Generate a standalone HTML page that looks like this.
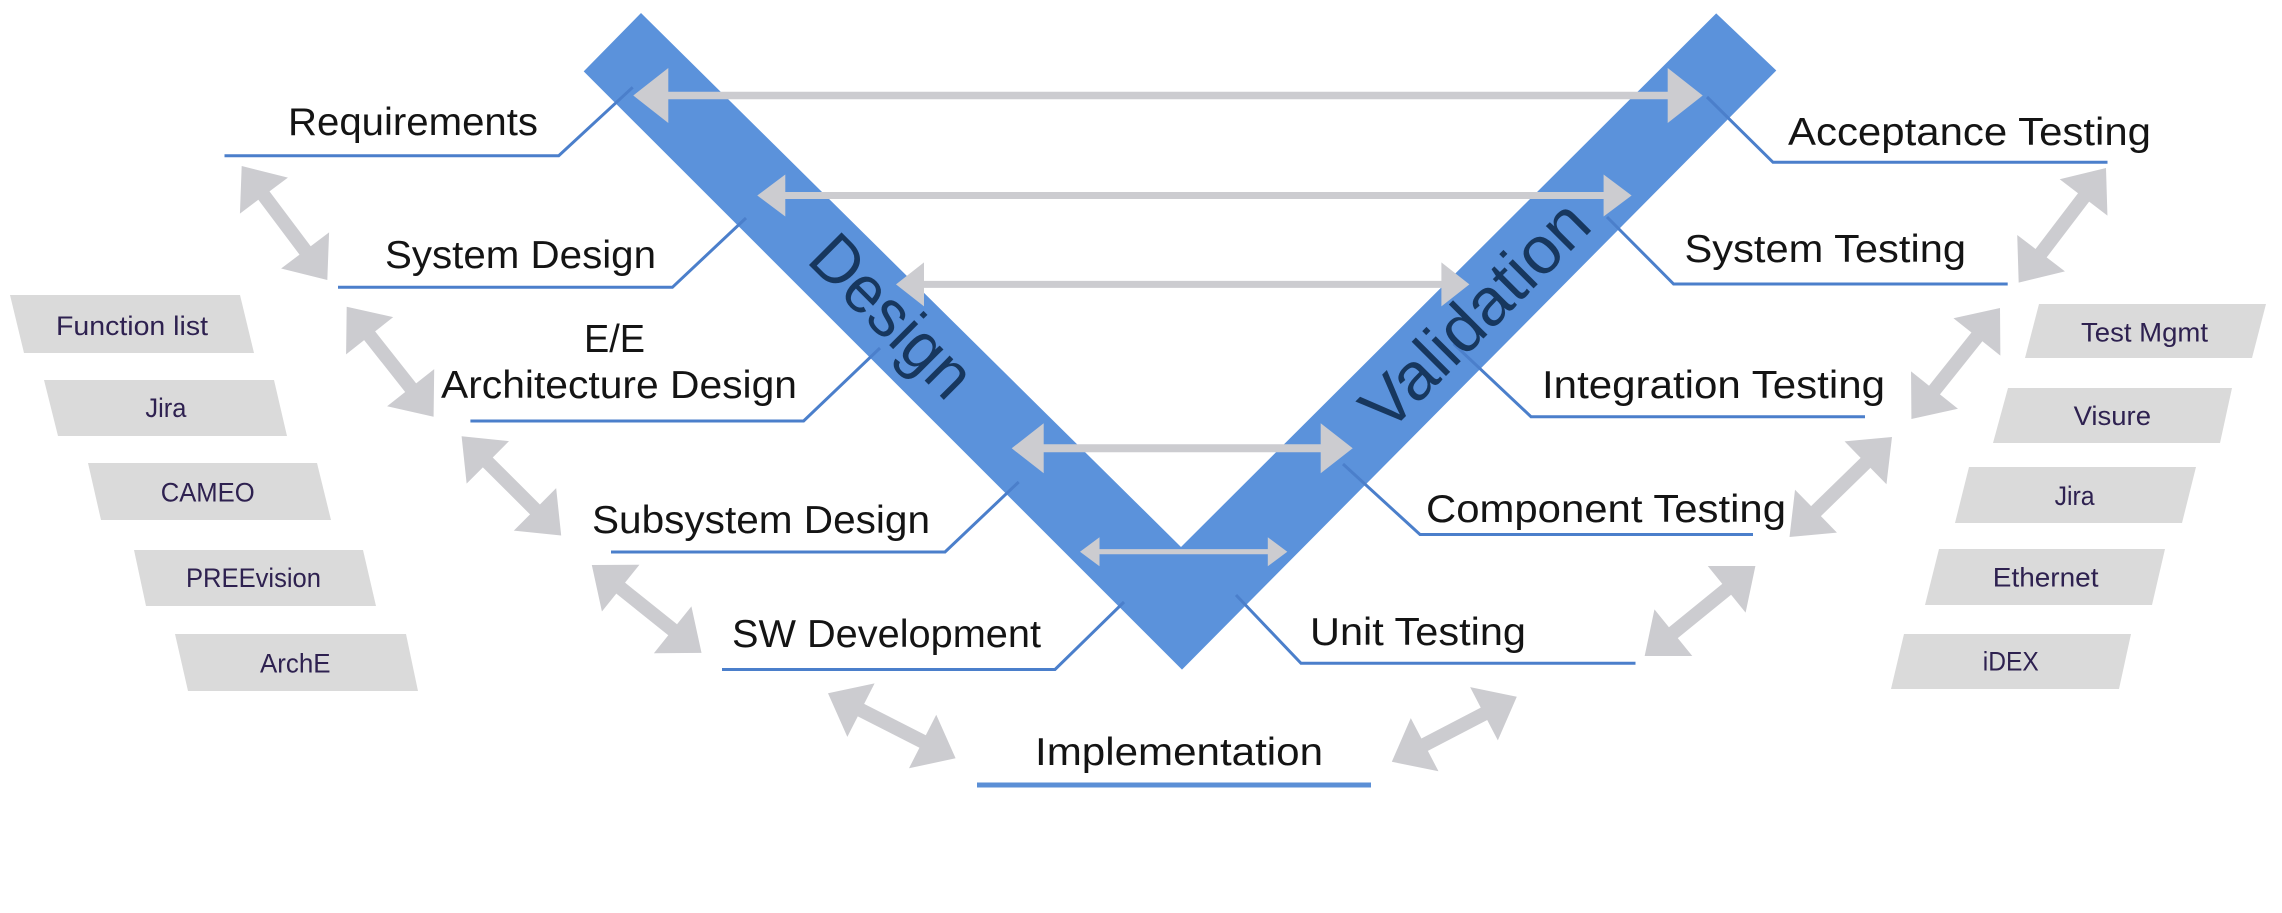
<!DOCTYPE html>
<html>
<head>
<meta charset="utf-8">
<style>
  html, body { margin: 0; padding: 0; background: #ffffff; }
  svg { display: block; }
  .lbl { font-family: "Liberation Sans", Arial, sans-serif; font-size: 39px; fill: #141414; }
  .tool { font-family: "Liberation Sans", Arial, sans-serif; font-size: 27px; fill: #2E2150; }
  .big { font-family: "Liberation Sans", Arial, sans-serif; font-size: 67px; fill: #17375E; }
</style>
</head>
<body>
<svg width="2282" height="913" viewBox="0 0 2282 913" xmlns="http://www.w3.org/2000/svg">
  <rect x="0" y="0" width="2282" height="913" fill="#ffffff"/>

  <!-- V shape -->
  <polygon points="583.7,71.4 641,13 1181,547 1716.2,13.4 1776.3,70.5 1182,669.6" fill="#5B92DB"/>

  <!-- Leader / underline lines -->
  <g fill="none" stroke="#4B7FCB" stroke-width="3" stroke-linejoin="miter">
    <polyline points="224.5,155.7 558.7,155.7 632.7,87.3"/>
    <polyline points="338,287.3 672.4,287.3 746,218"/>
    <polyline points="470.4,421 803.6,421 880,348"/>
    <polyline points="611,552 945,552 1018.7,482"/>
    <polyline points="722,669.5 1055,669.5 1124,602"/>
    <polyline points="1707,97 1773,162.3 2107.5,162.3"/>
    <polyline points="1607,217 1673.6,284 2007.7,284"/>
    <polyline points="1453.6,343.8 1531,416.7 1865,416.7"/>
    <polyline points="1343,464 1420,534.5 1753,534.5"/>
    <polyline points="1236,595 1301,663.3 1635.5,663.3"/>
  </g>
  <line x1="977" y1="785" x2="1371" y2="785" stroke="#5B8FD6" stroke-width="5"/>

  <!-- Horizontal double arrows -->
  <g fill="#CCCCD0">
    <polygon points="633.3,95.5 668.3,68 668.3,91.7 1667.7,91.7 1667.7,68 1702.7,95.5 1667.7,123 1667.7,99.3 668.3,99.3 668.3,123"/>
    <polygon points="757.3,195.5 785.3,174.5 785.3,192 1603.6,192 1603.6,174.5 1631.6,195.5 1603.6,216.5 1603.6,199 785.3,199 785.3,216.5"/>
    <polygon points="896,284.4 924,262.4 924,280.9 1441.4,280.9 1441.4,262.4 1469.4,284.4 1441.4,306.4 1441.4,287.9 924,287.9 924,306.4"/>
    <polygon points="1011.7,448.3 1043.7,423.3 1043.7,444.3 1320.7,444.3 1320.7,423.3 1352.7,448.3 1320.7,473.3 1320.7,452.3 1043.7,452.3 1043.7,473.3"/>
    <polygon points="1080,551.7 1099.5,537.2 1099.5,549.1 1267.8,549.1 1267.8,537.2 1287.3,551.7 1267.8,566.2 1267.8,554.3 1099.5,554.3 1099.5,566.2"/>
  </g>

  <!-- Diagonal double arrows (left) -->
  <g fill="#CCCCD0">
    <polygon transform="translate(241.7,166) rotate(53.1)" points="0,0 37,-30 37,-7 105.6,-7 105.6,-30 142.6,0 105.6,30 105.6,7 37,7 37,30"/>
    <polygon transform="translate(346.7,306.7) rotate(51.7)" points="0,0 37,-30 37,-7 103.2,-7 103.2,-30 140.2,0 103.2,30 103.2,7 37,7 37,30"/>
    <polygon transform="translate(461.6,436.3) rotate(44.9)" points="0,0 37,-30 37,-7 103.6,-7 103.6,-30 140.6,0 103.6,30 103.6,7 37,7 37,30"/>
    <polygon transform="translate(591.8,565) rotate(38.7)" points="0,0 37,-30 37,-7 103.6,-7 103.6,-30 140.6,0 103.6,30 103.6,7 37,7 37,30"/>
    <polygon transform="translate(828,693.3) rotate(27)" points="0,0 37,-30 37,-7 106.2,-7 106.2,-30 143.2,0 106.2,30 106.2,7 37,7 37,30"/>
  </g>
  <!-- Diagonal double arrows (right) -->
  <g fill="#CCCCD0">
    <polygon transform="translate(2106,168) rotate(127.3)" points="0,0 37,-30 37,-7 107.1,-7 107.1,-30 144.1,0 107.1,30 107.1,7 37,7 37,30"/>
    <polygon transform="translate(2000,308) rotate(128.6)" points="0,0 37,-30 37,-7 105,-7 105,-30 142,0 105,30 105,7 37,7 37,30"/>
    <polygon transform="translate(1892,437) rotate(135.7)" points="0,0 37,-30 37,-7 106.2,-7 106.2,-30 143.2,0 106.2,30 106.2,7 37,7 37,30"/>
    <polygon transform="translate(1755.4,566) rotate(140.9)" points="0,0 37,-30 37,-7 105.7,-7 105.7,-30 142.7,0 105.7,30 105.7,7 37,7 37,30"/>
    <polygon transform="translate(1516.8,696.7) rotate(152.5)" points="0,0 37,-30 37,-7 103.9,-7 103.9,-30 140.9,0 103.9,30 103.9,7 37,7 37,30"/>
  </g>

  <!-- Tool boxes left -->
  <g fill="#DADADA">
    <polygon points="10,295 240,295 254,353 24,353"/>
    <polygon points="44,380 274,380 287,436 58,436"/>
    <polygon points="88,463 317,463 331,520 101,520"/>
    <polygon points="134,550 363,550 376,606 146,606"/>
    <polygon points="175,634 406,634 418,691 188,691"/>
  </g>
  <!-- Tool boxes right -->
  <g fill="#DADADA">
    <polygon points="2039,304 2266,304 2252,358 2025,358"/>
    <polygon points="2008,388 2232,388 2220,443 1993,443"/>
    <polygon points="1969,467 2196,467 2182,523 1955,523"/>
    <polygon points="1939,549 2165,549 2152,605 1925,605"/>
    <polygon points="1904,634 2131,634 2119,689 1891,689"/>
  </g>

  <!-- Tool texts -->
  <text class="tool" x="56" y="335" textLength="152" lengthAdjust="spacingAndGlyphs">Function list</text>
  <text class="tool" x="145.4" y="417" textLength="41" lengthAdjust="spacingAndGlyphs">Jira</text>
  <text class="tool" x="160.7" y="501.7" textLength="94" lengthAdjust="spacingAndGlyphs">CAMEO</text>
  <text class="tool" x="186" y="587" textLength="135" lengthAdjust="spacingAndGlyphs">PREEvision</text>
  <text class="tool" x="260" y="672.7" textLength="70.6" lengthAdjust="spacingAndGlyphs">ArchE</text>
  <text class="tool" x="2081" y="341.7" textLength="127" lengthAdjust="spacingAndGlyphs">Test Mgmt</text>
  <text class="tool" x="2073.6" y="425" textLength="77.4" lengthAdjust="spacingAndGlyphs">Visure</text>
  <text class="tool" x="2054.6" y="505" textLength="40" lengthAdjust="spacingAndGlyphs">Jira</text>
  <text class="tool" x="1992.8" y="586.7" textLength="105.7" lengthAdjust="spacingAndGlyphs">Ethernet</text>
  <text class="tool" x="1982.8" y="670.7" textLength="56" lengthAdjust="spacingAndGlyphs">iDEX</text>

  <!-- Level labels -->
  <text class="lbl" x="288" y="135" textLength="250" lengthAdjust="spacingAndGlyphs">Requirements</text>
  <text class="lbl" x="385" y="268" textLength="271" lengthAdjust="spacingAndGlyphs">System Design</text>
  <text class="lbl" x="584" y="352" textLength="61" lengthAdjust="spacingAndGlyphs">E/E</text>
  <text class="lbl" x="441" y="398" textLength="356" lengthAdjust="spacingAndGlyphs">Architecture Design</text>
  <text class="lbl" x="592" y="533" textLength="338" lengthAdjust="spacingAndGlyphs">Subsystem Design</text>
  <text class="lbl" x="732" y="647" textLength="309" lengthAdjust="spacingAndGlyphs">SW Development</text>
  <text class="lbl" x="1035" y="765" textLength="288" lengthAdjust="spacingAndGlyphs">Implementation</text>
  <text class="lbl" x="1788" y="145" textLength="363" lengthAdjust="spacingAndGlyphs">Acceptance Testing</text>
  <text class="lbl" x="1684.5" y="262" textLength="281.5" lengthAdjust="spacingAndGlyphs">System Testing</text>
  <text class="lbl" x="1542" y="398" textLength="343" lengthAdjust="spacingAndGlyphs">Integration Testing</text>
  <text class="lbl" x="1426" y="522" textLength="360" lengthAdjust="spacingAndGlyphs">Component Testing</text>
  <text class="lbl" x="1310" y="645" textLength="216" lengthAdjust="spacingAndGlyphs">Unit Testing</text>

  <!-- Arm labels -->
  <text class="big" x="876" y="332" text-anchor="middle" textLength="200" lengthAdjust="spacingAndGlyphs" transform="rotate(45 876 332)">Design</text>
  <text class="big" x="1491" y="331" text-anchor="middle" textLength="292" lengthAdjust="spacingAndGlyphs" transform="rotate(-45 1491 331)">Validation</text>
</svg>
</body>
</html>
